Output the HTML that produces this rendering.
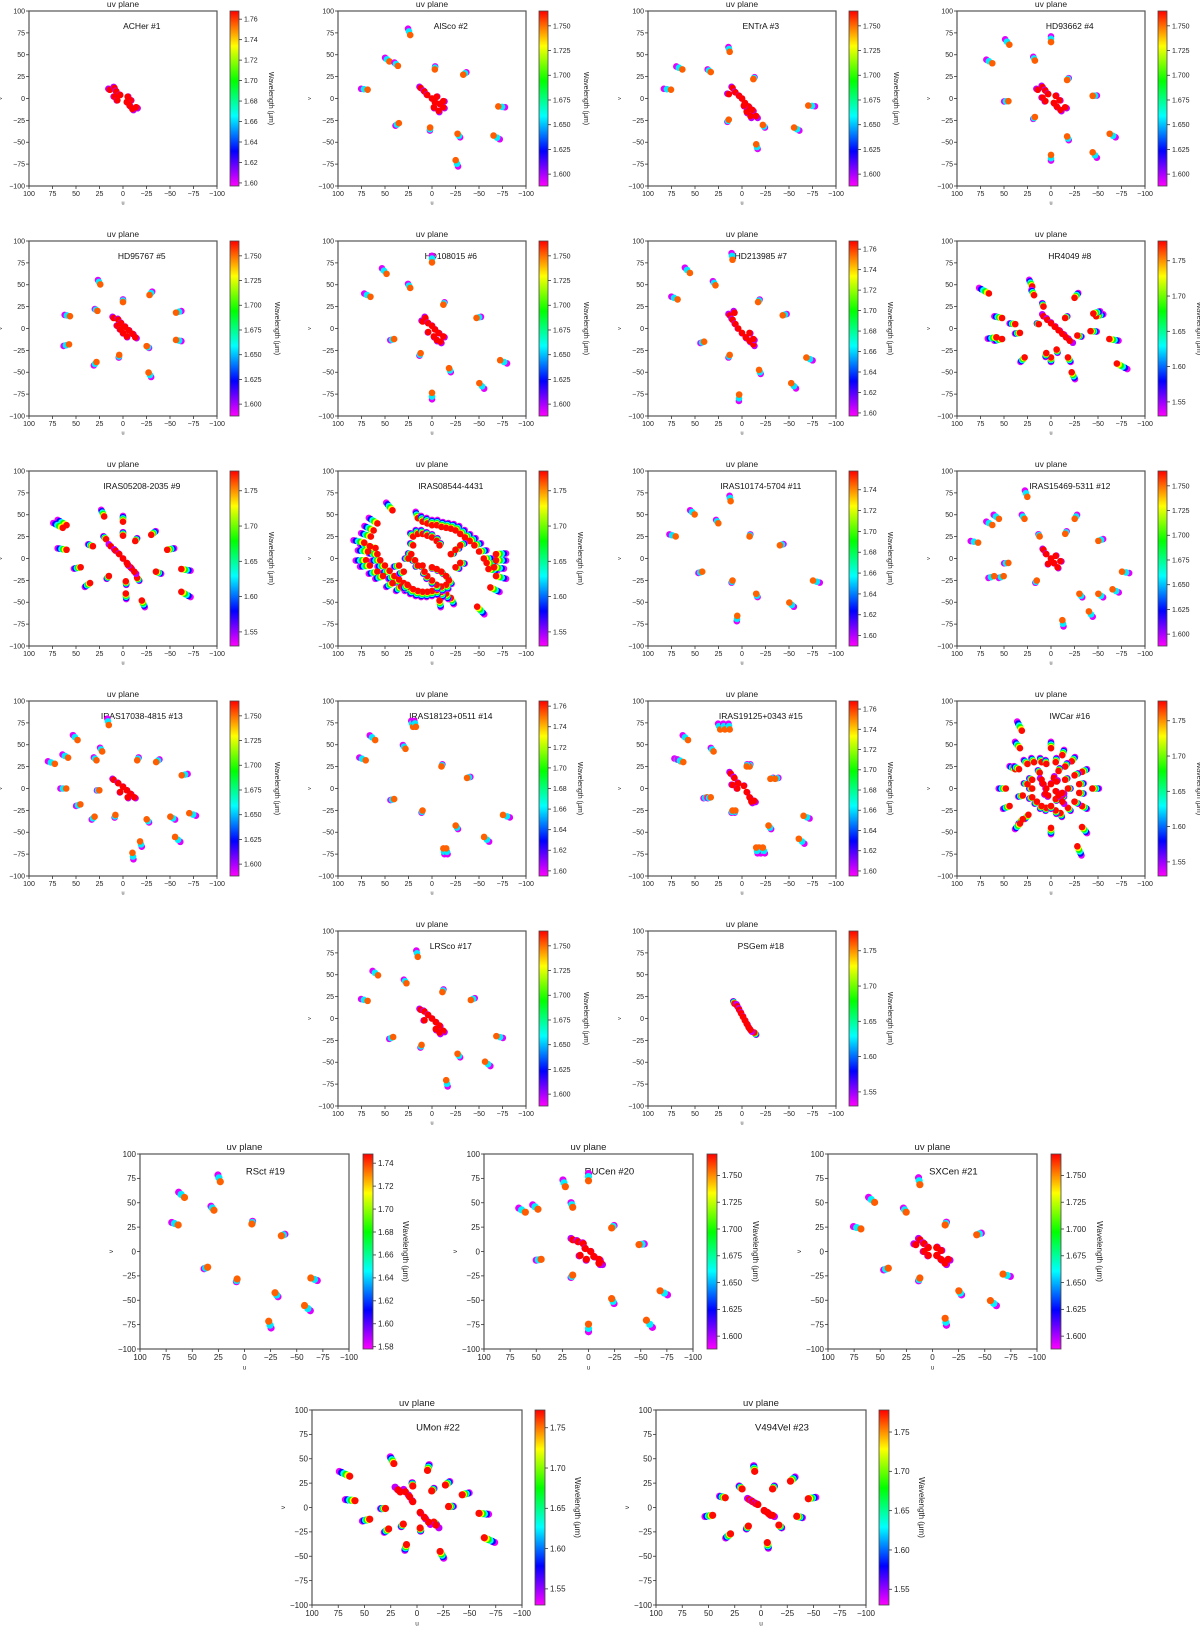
<!DOCTYPE html>
<html><head><meta charset="utf-8"><title>uv plane grid</title>
<style>
html,body{margin:0;padding:0;background:#fff;}
svg{display:block;font-family:"Liberation Sans","DejaVu Sans",sans-serif;}
</style></head>
<body>
<svg id="fig" width="1200" height="1626" viewBox="0 0 1200 1626" xmlns="http://www.w3.org/2000/svg">
<defs id="defs"></defs>
</svg>
<script>
// ---------- data ----------
const panelNames = ["ACHer #1","AlSco #2","ENTrA #3","HD93662 #4","HD95767 #5","HD108015 #6","HD213985 #7","HR4049 #8",
"IRAS05208-2035 #9","IRAS08544-4431","IRAS10174-5704 #11","IRAS15469-5311 #12","IRAS17038-4815 #13","IRAS18123+0511 #14","IRAS19125+0343 #15","IWCar #16",
"LRSco #17","PSGem #18","RSct #19","RUCen #20","SXCen #21","UMon #22","V494Vel #23"];
const lamMins = [1.597,1.588,1.588,1.588,1.588,1.588,1.597,1.53,1.53,1.53,1.59,1.588,1.588,1.595,1.595,1.53,1.588,1.53,1.578,1.588,1.588,1.53,1.53];
const lamMaxs = [1.768,1.765,1.765,1.765,1.765,1.765,1.768,1.778,1.778,1.778,1.758,1.765,1.765,1.765,1.768,1.778,1.765,1.778,1.748,1.77,1.77,1.772,1.778];
const channelCounts = [3,3,3,3,3,3,3,6,6,6,3,3,3,3,3,6,3,6,3,3,3,6,6];
const tickSetA = [1.60,1.62,1.64,1.66,1.68,1.70,1.72,1.74,1.76];
const tickSetB = [1.600,1.625,1.650,1.675,1.700,1.725,1.750];
const tickSetC = [1.55,1.60,1.65,1.70,1.75];
const tickSetD = [1.60,1.62,1.64,1.66,1.68,1.70,1.72,1.74];
const tickSetE = [1.58,1.60,1.62,1.64,1.66,1.68,1.70,1.72,1.74];
const cbTickSets = ["A","B","B","B","B","B","A","C","C","C","D","B","B","A","A","C","B","C","E","B","B","C","C"];
const axisTicks = [100,75,50,25,0,-25,-50,-75,-100];

// outer tracks: [u, v] at longest wavelength
const outerTracks = [
 [[14,10],[-14,-10]],
 [[23,72],[45,42],[36,37],[68,10],[-3,33],[-33,27],[-70,-9],[-65,-42],[-27,-40],[-25,-70],[2,-33],[35,-28]],
 [[13,53],[63,33],[33,30],[75,10],[-12,22],[14,-24],[-15,-52],[-22,-30],[-55,-33],[-70,-8]],
 [[44,61],[0,64],[62,40],[17,43],[45,-3],[-17,21],[-44,3],[17,-21],[-17,-43],[0,-64],[-44,-61],[-62,-40]],
 [[24,50],[-28,38],[56,14],[-56,18],[27,20],[0,30],[-25,-20],[4,-30],[28,-38],[-27,-50],[57,-18],[-56,-13]],
 [[0,75],[48,62],[65,36],[23,46],[-12,27],[-47,12],[-72,-36],[-50,-62],[-18,-45],[0,-73],[12,-28],[40,-12]],
 [[10,78],[55,63],[28,49],[68,33],[-17,30],[-43,15],[-68,-33],[-52,-62],[-18,-47],[3,-75],[13,-30],[40,-15]],
 [[66,40],[20,48],[-25,35],[-48,14],[-62,-12],[-70,-40],[-22,-50],[0,-33],[52,-12],[52,12],[28,-33],[-42,-3],[-45,17],[18,38],[8,25],[-15,12],[38,5],[13,5],[-6,-24],[-18,-33],[5,-28],[-28,-8],[58,-10],[33,-5]],
 [[60,38],[64,35],[60,10],[45,-10],[35,-28],[32,14],[18,22],[20,48],[0,42],[0,26],[-13,20],[-30,27],[-47,10],[-62,-12],[-62,-38],[-20,-48],[-3,-40],[-3,-26],[-15,-22],[-35,-15],[15,-20]],
 [[42,55],[15,46],[10,42],[5,40],[0,38],[-5,38],[-10,36],[-15,35],[-20,34],[-25,32],[-30,28],[-35,24],[-40,20],[-45,15],[-50,8],[-55,0],[-58,-5],[-60,-12],[-66,-10],[-68,-2],[-68,5],[-68,-20],[-62,-33],[-48,-55],
  [-20,-45],[-15,-40],[-10,-38],[-5,-36],[0,-37],[5,-38],[10,-38],[15,-37],[20,-35],[25,-32],[30,-28],[35,-24],[40,-20],[45,-14],[50,-8],[55,-2],[58,5],[60,12],[66,14],[68,8],[70,-2],[65,25],[62,32],[58,40],
  [72,18],[66,-8],[58,-15],[52,-20],[42,-28],[33,-32],[26,-30],[-8,-48],
  [20,25],[15,28],[10,28],[5,26],[0,24],[-5,20],[-8,15],[20,15],[22,5],[18,-2],[10,-8],[0,-10],[-5,-12],[-10,-15],[-15,-20],[-18,-25],[-15,-30],[-10,-32],[-5,-30],[0,-25],[5,-20],[8,-15],[15,-8],[25,0],[-20,5],[-25,10],[-30,15],[-25,-10],[-30,-5],[30,-15],[35,-8]],
 [[12,65],[50,50],[25,40],[70,25],[-8,25],[-40,15],[-75,-25],[-50,-50],[-15,-40],[5,-65],[10,-25],[42,-15]],
 [[25,70],[55,45],[62,38],[28,45],[77,18],[12,25],[-15,28],[-25,45],[-50,20],[-75,-15],[-50,-40],[-65,-35],[-30,-40],[-12,-70],[-40,-60],[45,-5],[50,-20],[15,-25],[60,-20]],
 [[15,72],[48,55],[58,35],[72,28],[22,42],[28,32],[60,0],[-15,32],[-35,30],[-62,15],[-70,-28],[-55,-55],[-25,-35],[-10,-73],[-18,-60],[8,-30],[30,-32],[45,-18],[-50,-32],[25,-2]],
 [[60,55],[70,32],[28,45],[20,70],[17,70],[-10,25],[-37,12],[-75,-30],[-55,-55],[-25,-42],[-12,-68],[-15,-68],[10,-25],[40,-12]],
 [[57,55],[65,31],[62,30],[30,42],[23,67],[18,67],[13,67],[-8,25],[-5,25],[-30,11],[-35,11],[-65,-31],[-60,-57],[-28,-42],[-18,-67],[-22,-67],[-15,-67],[7,-25],[10,-25],[37,-10],[33,-10]],
 [[31,66],[33,46],[0,46],[-12,38],[-22,31],[-33,19],[-44,0],[-33,-20],[-33,-44],[-28,-66],[0,-45],[24,-30],[30,-35],[33,-40],[44,-20],[48,0],[38,22],[34,22],[25,28],[18,30],[10,30],[5,28],[-5,30],[-15,25],[-25,15],[-30,5],[-30,-5],[-25,-15],[-18,-22],[-10,-28],[-5,-25],[5,-22],[10,-20],[15,-15],[20,-10],[20,0],[25,5],[30,-8],[20,10],[12,18],[-8,20],[-15,10],[-18,0],[-12,-8],[-5,-12],[0,-20]],
 [[15,70],[57,49],[27,40],[68,20],[-11,30],[-41,21],[-68,-20],[-56,-49],[-27,-40],[-15,-70],[11,-30],[41,-21]],
 [[8,17],[-13,-16]],
 [[23,71],[57,55],[63,27],[29,42],[-7,28],[-35,16],[-63,-27],[-57,-55],[-29,-42],[-23,-71],[7,-28],[35,-16]],
 [[0,72],[22,66],[48,43],[60,40],[15,45],[45,-8],[-22,24],[-48,7],[-68,-40],[-55,-70],[-22,-48],[0,-74],[15,-24]],
 [[12,68],[55,50],[25,40],[68,23],[-12,27],[-42,17],[-67,-23],[-55,-50],[-25,-40],[-12,-68],[12,-27],[42,-17]],
 [[64,32],[59,7],[30,-1],[45,-12],[27,-22],[22,45],[-10,38],[-14,17],[-27,23],[-43,13],[-30,1],[-59,-6],[-64,-31],[-22,-45],[10,-38],[13,-17],[4,22],[-16,-15],[-3,-21]],
 [[6,37],[18,19],[34,10],[46,-8],[29,-27],[12,-19],[-6,-36],[-17,-18],[-34,-9],[-45,9],[-28,27],[-11,19]]
];
// central cluster points (drawn red)
const centerPoints = [
 [[14,10],[9,12],[7,8],[3,4],[9,2],[6,-2],[-5,2],[-8,-2],[-4,-4],[-7,-8],[-10,-12],[-14,-10]],
 [[12,12],[8,8],[5,4],[0,0],[-3,-4],[-8,-6],[-12,-10],[-2,-10],[-7,-14],[-12,-3],[-5,2]],
 [[10,12],[7,7],[3,3],[0,0],[-3,-5],[-7,-9],[-11,-13],[-5,-15],[-9,-20],[-15,-20],[14,5],[-2,-8]],
 [[14,10],[9,13],[6,9],[3,5],[9,1],[6,-3],[-5,3],[-9,-2],[-3,-5],[-6,-9],[-10,-13],[-15,-10]],
 [[10,12],[5,10],[2,6],[-2,2],[-6,-2],[-10,-6],[-13,-10],[6,3],[3,-1],[0,-5],[-4,-9]],
 [[10,8],[7,12],[4,6],[0,3],[-3,-1],[-7,-5],[-12,-9],[-2,-9],[-5,-13],[-9,-15],[4,-4]],
 [[13,15],[10,10],[7,5],[4,0],[0,-5],[-4,-10],[-8,-14],[-12,-18],[-8,-5],[-12,-12],[8,18]],
 [[8,14],[4,10],[0,6],[-4,2],[-8,-2],[-12,-6],[-16,-10],[-20,-14]],
 [[13,14],[8,9],[4,5],[0,0],[-4,-5],[-8,-10],[-12,-15],[-5,-7]],
 [],
 [],
 [[8,10],[5,5],[0,0],[-3,-5],[-7,-10],[-5,3],[-10,-3],[3,-6]],
 [[10,10],[5,6],[0,2],[-4,-2],[-8,-6],[-12,-10],[-5,-10],[3,-4]],
 [],
 [[12,17],[8,12],[4,6],[-2,3],[-5,-4],[-8,-10],[-10,-15],[10,4],[5,0],[-13,-14]],
 [[8,5],[5,0],[0,5],[-5,-3],[-8,-8],[10,10],[-12,-5],[3,-8],[-3,12],[-12,-15],[6,-6],[-6,8]],
 [[12,10],[8,8],[4,4],[0,0],[-4,-4],[-8,-8],[-12,-14],[-4,-12],[-8,-16],[8,-2]],
 [[5,14],[3,10],[1,6],[-1,2],[-3,-2],[-5,-6],[-7,-10],[-9,-13]],
 [],
 [[15,12],[10,10],[5,8],[3,3],[-2,0],[-5,-5],[-10,-8],[-12,-12],[8,-4],[2,-8],[-10,-12]],
 [[16,7],[12,12],[8,8],[4,4],[8,0],[4,-4],[-4,4],[-8,1],[-4,-4],[-8,-8],[-12,-12],[-15,-8]],
 [[4,6],[7,11],[11,16],[16,16],[18,18],[-3,-5],[-7,-10],[-11,-15],[-18,-18]],
 [[11,8],[8,6],[5,4],[3,3],[-3,-3],[-6,-5],[-8,-7],[-11,-8]]
];

// ---------- layout ----------
const smallCols = [29,338,648,957];
const panelLayout = [];
for (let i=0;i<16;i++) panelLayout.push({x:smallCols[i%4], y:11+Math.floor(i/4)*230, w:188, h:175, big:false});
panelLayout.push({x:338,y:931,w:188,h:175,big:false});
panelLayout.push({x:648,y:931,w:188,h:175,big:false});
panelLayout.push({x:140,y:1154,w:209,h:195,big:true});
panelLayout.push({x:484,y:1154,w:209,h:195,big:true});
panelLayout.push({x:828,y:1154,w:209,h:195,big:true});
panelLayout.push({x:312,y:1410,w:210,h:195,big:true});
panelLayout.push({x:656,y:1410,w:210,h:195,big:true});

const NS = "http://www.w3.org/2000/svg";
const svg = document.getElementById('fig');
const defs = document.getElementById('defs');
function mk(tag, attrs, parent){ const e=document.createElementNS(NS,tag); for(const k in attrs) e.setAttribute(k,attrs[k]); (parent||svg).appendChild(e); return e; }
function cmap(t){ t=Math.max(0,Math.min(1,t)); return "hsl("+(300*(1-t)).toFixed(1)+",100%,50%)"; }

// gradient for colorbars
const grad = mk('linearGradient',{id:'cbgrad',x1:0,y1:1,x2:0,y2:0},defs);
for (let s=0;s<=10;s++){ mk('stop',{offset:(s/10),'stop-color':cmap(s/10)},grad); }

function getTicks(code){ return code==="A"?tickSetA:code==="B"?tickSetB:code==="C"?tickSetC:code==="D"?tickSetD:tickSetE; }

panelLayout.forEach((L,pi)=>{
  const g = mk('g',{});
  
  
  const fs = L.big?8:7, tfs = L.big?9.5:8.5;
  const xs = u => L.x + (100-u)/200*L.w;
  const ys = v => L.y + (100-v)/200*L.h;
  // frame
  const fr = mk('rect',{x:L.x,y:L.y,width:L.w,height:L.h,fill:'#fff',stroke:'#555','stroke-width':1.2},g);
  
  
  // title
  const ti = mk('text',{x:L.x+L.w/2,y:L.y-4,'font-size':tfs,'text-anchor':'middle',fill:'#222'},g);
  ti.textContent='uv plane';
  
  
  // ticks
  axisTicks.forEach(t=>{
    const x=xs(t); mk('line',{x1:x,y1:L.y+L.h,x2:x,y2:L.y+L.h+3,stroke:'#333','stroke-width':0.8},g);
    const tx=mk('text',{x:x,y:L.y+L.h+3+fs,'font-size':fs,'text-anchor':'middle',fill:'#222'},g);
    tx.textContent=(t<0?'\u2212'+(-t):String(t));
    
    
    const y=ys(t); mk('line',{x1:L.x-3,y1:y,x2:L.x,y2:y,stroke:'#333','stroke-width':0.8},g);
    const ty=mk('text',{x:L.x-4,y:y+fs*0.35,'font-size':fs,'text-anchor':'end',fill:'#222'},g);
    ty.textContent=(t<0?'\u2212'+(-t):String(t));
    
    
  });
  const xl=mk('text',{x:L.x+L.w/2,y:L.y+L.h+3+fs*2.2,'font-size':fs-1.5,'text-anchor':'middle',fill:'#333'},g);
  xl.textContent='u';
  
  
  const ylx=L.x-27, yly=L.y+L.h/2;
  const yl=mk('text',{x:ylx,y:yly,'font-size':fs-1.5,'text-anchor':'middle',fill:'#333',transform:'rotate(-90 '+ylx+' '+yly+')'},g);
  yl.textContent='v';
  
  
  // panel label
  const lb=mk('text',{x:L.x+0.6*L.w,y:L.y+0.087*L.h+tfs*0.35,'font-size':tfs,'text-anchor':'middle',fill:'#111'},g);
  lb.textContent=panelNames[pi];
  
  
  // points
  const lmin=lamMins[pi], lmax=lamMaxs[pi], n=channelCounts[pi];
  const r = L.big?3.6:3.3;
  const lams=[];
  if(n===3){ lams.push(lmin+0.004, (lmin+lmax)/2-0.02, lmax-0.013); }
  else { for(let k=0;k<n;k++) lams.push(lmin+0.004+(lmax-lmin-0.006)*k/(n-1)); }
  const dots = mk('g',{},g);
  
  
  outerTracks[pi].forEach(tr=>{
    lams.forEach(lam=>{
      const f=lmax/lam;
      const c=mk('circle',{cx:xs(tr[0]*f),cy:ys(tr[1]*f),r:r,fill:cmap((lam-lmin)/(lmax-lmin))},dots);
      
      
    });
  });
  centerPoints[pi].forEach(p=>{
    const f=lmax/lmin;
    const c0=mk('circle',{cx:xs(p[0]*f),cy:ys(p[1]*f),r:r,fill:cmap(0.05)},dots);
    
    
    const c=mk('circle',{cx:xs(p[0]),cy:ys(p[1]),r:r,fill:cmap(1)},dots);
    
    
  });
  // colorbar
  const cbx = L.x + (L.big?223:201), cbw = L.big?10:9;
  const cb=mk('rect',{x:cbx,y:L.y,width:cbw,height:L.h,fill:'url(#cbgrad)',stroke:'#444','stroke-width':0.8},g);
  
  
  const cbt=getTicks(cbTickSets[pi]);
  const dec = cbTickSets[pi]==="B"?3:2;
  cbt.forEach(t=>{
    const y=L.y+L.h-(t-lmin)/(lmax-lmin)*L.h;
    if(y<L.y-1||y>L.y+L.h+1) return;
    mk('line',{x1:cbx+cbw,y1:y,x2:cbx+cbw+3,y2:y,stroke:'#333','stroke-width':0.8},g);
    const tt=mk('text',{x:cbx+cbw+5,y:y+fs*0.35,'font-size':fs,fill:'#222'},g);
    tt.textContent=t.toFixed(dec);
    
    
  });
  const clx = cbx+cbw+(dec===3?36:30), cly=L.y+L.h/2;
  const cl=mk('text',{x:clx,y:cly,'font-size':fs,'text-anchor':'middle',fill:'#222',transform:'rotate(90 '+clx+' '+cly+')'},g);
  cl.textContent='Wavelength (\u03bcm)';
  
  
});
</script>
</body></html>
